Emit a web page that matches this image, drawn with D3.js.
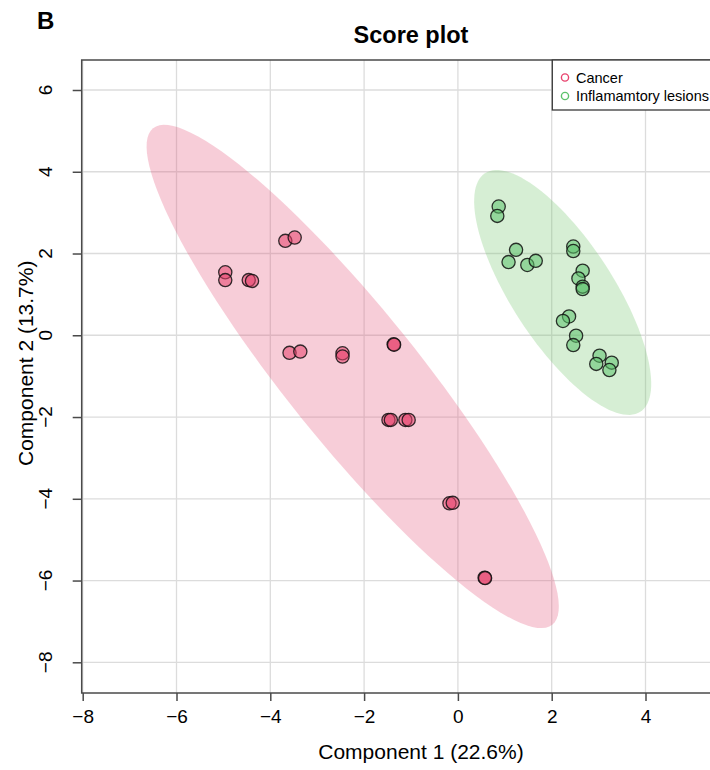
<!DOCTYPE html>
<html>
<head>
<meta charset="utf-8">
<script src="https://cdn.jsdelivr.net/npm/d3@7"></script>
<style>
  html, body { margin: 0; padding: 0; background: #fff; }
  svg { display: block; font-family: "Liberation Sans", Arial, Helvetica, sans-serif; }
</style>
</head>
<body>
<svg id="chart" width="710" height="770"></svg>
<script>
// PLS-DA scores: component 1 vs component 2
const groups = ["Cancer", "Inflamamtory lesions"];

const cancerX = [-4.96, -4.96, -4.46, -4.39, -3.68, -3.48, -3.59, -3.36, -2.46, -2.46,
                 -1.37, -1.36, -1.48, -1.43, -1.12, -1.05, -0.18, -0.11, 0.57, 0.58];
const cancerY = [1.54, 1.35, 1.35, 1.33, 2.31, 2.39, -0.43, -0.40, -0.44, -0.52,
                 -0.22, -0.23, -2.07, -2.07, -2.07, -2.07, -4.11, -4.10, -5.93, -5.94];

const inflamX = [0.87, 0.84, 1.24, 1.08, 1.48, 1.66, 2.46, 2.46, 2.66, 2.57,
                 2.66, 2.66, 2.37, 2.24, 2.52, 2.46, 3.02, 2.95, 3.28, 3.23];
const inflamY = [3.15, 2.92, 2.09, 1.79, 1.72, 1.82, 2.17, 2.06, 1.58, 1.39,
                 1.19, 1.13, 0.46, 0.35, -0.01, -0.24, -0.50, -0.70, -0.67, -0.85];

// 95% confidence ellipses: centre, then the two half-axis vectors (score units)
const cancerEllipse = [[-2.243, -1.008], [4.256, -6.072], [1.096, 1.013]];
const inflamEllipse = [[2.234, 1.047], [1.655, -2.918], [0.908, 0.678]];

const xTicks = [-8, -6, -4, -2, 0, 2, 4];
const yTicks = [-8, -6, -4, -2, 0, 2, 4, 6];

const colors = { fill: ["#e8436e", "#5cc26b"], ellipse: ["#e4587d", "#76c670"] };

const svg = d3.select("#chart");

const box = { left: 81.7, right: 740.7, top: 60, bottom: 693 };
const x = d3.scaleLinear().domain([-8, 6]).range([82.7, 739.3]);
const y = d3.scaleLinear().domain([-8, 6]).range([662.3, 90]);

// Grid
const grid = svg.append("g");
grid.selectAll("line.v").data(xTicks).join("line")
  .attr("x1", d => x(d)).attr("x2", d => x(d))
  .attr("y1", box.top).attr("y2", box.bottom)
  .attr("stroke", "#dcdcdc").attr("stroke-width", 1.3);
grid.selectAll("line.h").data(yTicks).join("line")
  .attr("y1", d => y(d)).attr("y2", d => y(d))
  .attr("x1", box.left).attr("x2", box.right)
  .attr("stroke", "#dcdcdc").attr("stroke-width", 1.3);

// Ellipses
function ellipsePoints(e) {
  const [c, a, b] = e;
  return d3.range(0, 121).map(i => {
    const t = i / 120 * 2 * Math.PI;
    return [c[0] + a[0] * Math.cos(t) + b[0] * Math.sin(t),
            c[1] + a[1] * Math.cos(t) + b[1] * Math.sin(t)];
  });
}
const line = d3.line().x(d => x(d[0])).y(d => y(d[1]));
[cancerEllipse, inflamEllipse].forEach((e, i) => {
  svg.append("path")
    .attr("d", line(ellipsePoints(e)) + "Z")
    .attr("fill", colors.ellipse[i])
    .attr("fill-opacity", 0.3)
    .attr("stroke", "none");
});

// Points
const series = [
  d3.zip(cancerX, cancerY),
  d3.zip(inflamX, inflamY)
];
series.forEach((pts, i) => {
  svg.append("g").selectAll("circle").data(pts).join("circle")
    .attr("cx", d => x(d[0])).attr("cy", d => y(d[1]))
    .attr("r", 6.6)
    .attr("fill", colors.fill[i]).attr("fill-opacity", 0.55)
    .attr("stroke", "#111").attr("stroke-opacity", 0.85).attr("stroke-width", 1.3);
});

// Frame
svg.append("rect")
  .attr("x", box.left).attr("y", box.top)
  .attr("width", box.right - box.left).attr("height", box.bottom - box.top)
  .attr("fill", "none").attr("stroke", "#4a4a4a").attr("stroke-width", 1.5);

// X axis
const xAxis = svg.append("g")
  .attr("transform", `translate(0,${box.bottom})`)
  .call(d3.axisBottom(x).tickValues(xTicks).tickSize(8).tickPadding(9));
xAxis.select(".domain").remove();
xAxis.selectAll(".tick line").attr("stroke", "#4a4a4a").attr("stroke-width", 1.5);
xAxis.selectAll(".tick text").attr("font-size", 19).attr("fill", "#000")
  .attr("font-family", "Liberation Sans, Arial, sans-serif");

// Y axis with rotated labels
const yAxis = svg.append("g")
  .attr("transform", `translate(${box.left},0)`)
  .call(d3.axisLeft(y).tickValues(yTicks).tickSize(9).tickFormat(""));
yAxis.select(".domain").remove();
yAxis.selectAll(".tick line").attr("stroke", "#4a4a4a").attr("stroke-width", 1.5);
const fmt = d3.format("");
svg.append("g").selectAll("text").data(yTicks).join("text")
  .attr("transform", d => `translate(52,${y(d)}) rotate(-90)`)
  .attr("text-anchor", "middle")
  .attr("font-size", 19)
  .text(d => fmt(d).replace("-", "\u2212"));

// Axis titles
svg.append("text")
  .attr("x", 421).attr("y", 759)
  .attr("text-anchor", "middle").attr("font-size", 21)
  .text("Component 1 (22.6%)");
svg.append("text")
  .attr("transform", `translate(33,${y(0) + 28}) rotate(-90)`)
  .attr("text-anchor", "middle").attr("font-size", 21)
  .text("Component 2 (13.7%)");

// Titles
svg.append("text")
  .attr("x", 411).attr("y", 43)
  .attr("text-anchor", "middle").attr("font-size", 23.5).attr("font-weight", "bold")
  .text("Score plot");
svg.append("text")
  .attr("x", 37).attr("y", 29)
  .attr("font-size", 24).attr("font-weight", "bold")
  .text("B");

// Legend
const legend = svg.append("g");
legend.append("rect")
  .attr("x", 552.3).attr("y", 60).attr("width", 220).attr("height", 50)
  .attr("fill", "#fff").attr("stroke", "#3a3a3a").attr("stroke-width", 1.3);
groups.forEach((g, i) => {
  legend.append("circle")
    .attr("cx", 565).attr("cy", 77.5 + i * 18.5).attr("r", 3.6)
    .attr("fill", "none").attr("stroke", colors.fill[i]).attr("stroke-width", 1.4);
  legend.append("text")
    .attr("x", 576).attr("y", 82.5 + i * 18.5)
    .attr("font-size", 14.5)
    .text(g);
});
</script>
</body>
</html>
